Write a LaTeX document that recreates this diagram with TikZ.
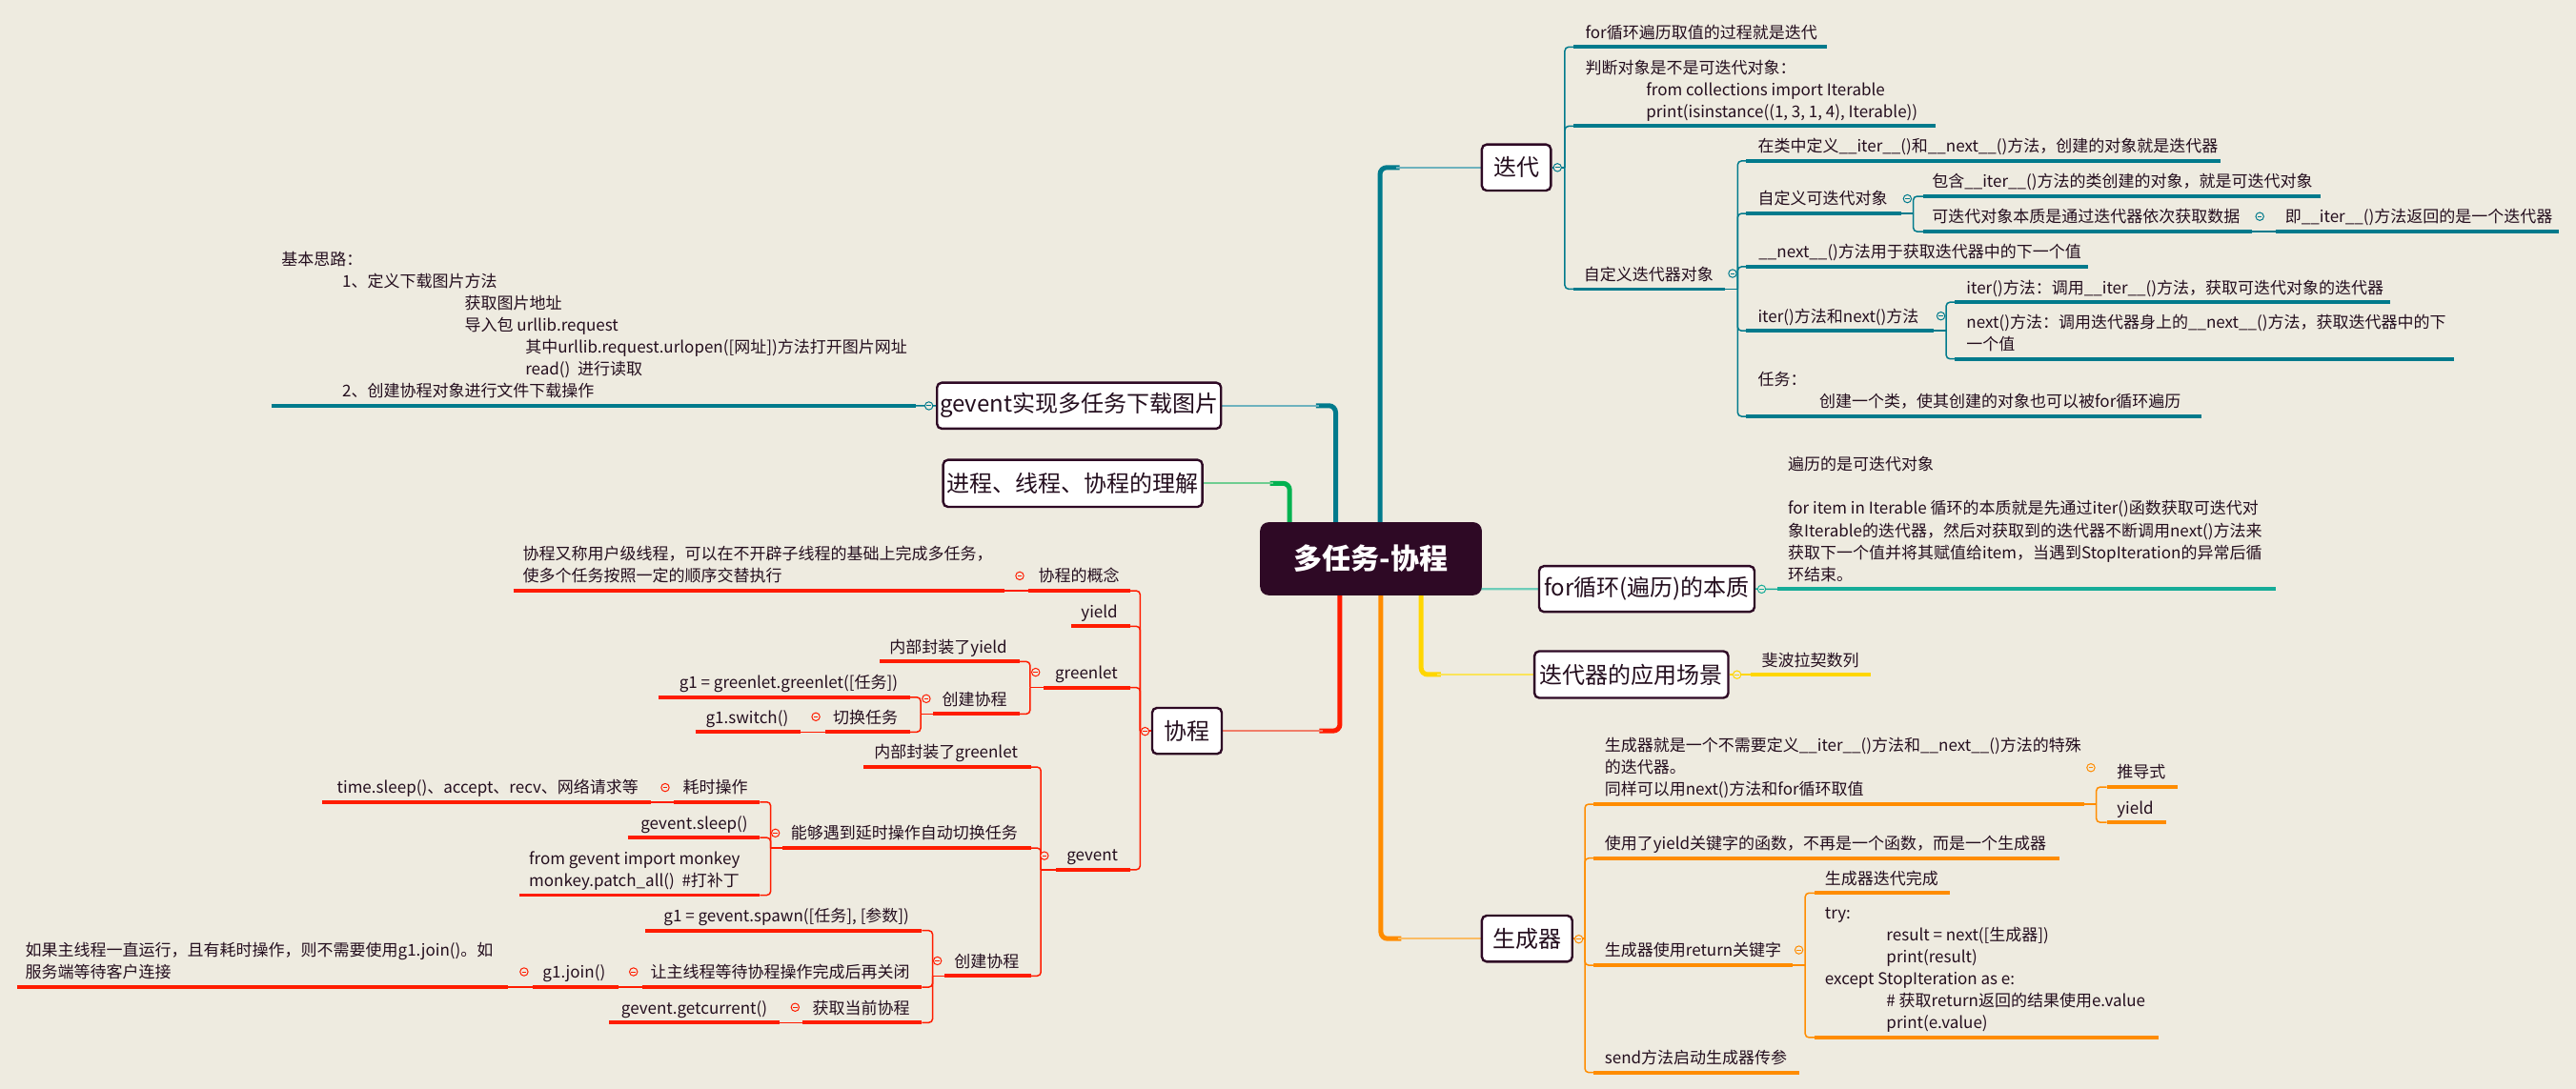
\documentclass[tikz,border=0pt]{standalone}
\usepackage{fontspec}
\setmainfont{Noto Sans CJK SC}
\usetikzlibrary{calc}
\definecolor{bg}{RGB}{238,235,224}
\definecolor{ink}{RGB}{36,14,30}
\definecolor{rootc}{RGB}{46,9,37}
\definecolor{tealc}{RGB}{0,122,140}
\definecolor{teall}{RGB}{110,178,190}
\definecolor{forc}{RGB}{22,172,152}
\definecolor{forl}{RGB}{110,205,185}
\definecolor{yelc}{RGB}{255,214,0}
\definecolor{yell}{RGB}{250,228,90}
\definecolor{orac}{RGB}{255,140,0}
\definecolor{oral}{RGB}{250,188,100}
\definecolor{redc}{RGB}{255,28,0}
\definecolor{redl}{RGB}{240,125,105}
\definecolor{grnc}{RGB}{0,178,80}
\definecolor{grnl}{RGB}{110,205,145}
\pgfdeclarelayer{bglayer}\pgfdeclarelayer{linelayer}
\pgfsetlayers{bglayer,linelayer,main}
\newcommand\mlines[1]{\begin{tabular}[b]{@{}l@{}}#1\end{tabular}}
\tikzset{
 txt/.style={font=\fontsize{17}{23.1}\selectfont, text=ink, inner sep=0pt, outer sep=0pt},
 tR/.style={txt, anchor=base west},
 tL/.style={txt, anchor=base east},
 topic/.style={draw=rootc, line width=2.4pt, fill=white, rounded corners=5pt, font=\fontsize{24}{28}\selectfont, text=ink, inner sep=0pt},
 ul/.style={line width=3.8pt},
 br/.style={line width=1.5pt, rounded corners=4pt},
 trunk/.style={line width=5pt, rounded corners=7pt},
 twig/.style={line width=2.2pt},
 collapse/.pic={\draw[line width=1pt, fill=bg] (0,0) circle[radius=4.2pt]; \draw[line width=1pt] (-2.3pt,0) -- (2.3pt,0);},
}
\begin{document}
\begin{tikzpicture}[x=1.7239pt,y=-1.7239pt]
\begin{pgfonlayer}{bglayer}
\fill[bg] (0,0) rectangle (1568,663);
\end{pgfonlayer}
\useasboundingbox (0,0) rectangle (1568,663);

% root and main topics
\node[fill=rootc, rounded corners=9pt, minimum width=232.7pt, minimum height=76.7pt, inner sep=0pt, text=white, font=\fontsize{30}{34}\selectfont\bfseries] (root) at (834.5,340.2) {多任务-协程};
\node[topic, minimum width=72.4pt, minimum height=48.3pt] (it) at (923,102) {迭代};
\node[topic, minimum width=298pt, minimum height=48.3pt] (gev) at (656.8,247) {gevent实现多任务下载图片};
\node[topic, minimum width=272pt, minimum height=49.3pt] (proc) at (653,294.3) {进程、线程、协程的理解};
\node[topic, minimum width=73pt, minimum height=48.3pt] (co) at (722.5,445) {协程};
\node[topic, minimum width=226pt, minimum height=48pt] (forb) at (1002.4,358.6) {for循环(遍历)的本质};
\node[topic, minimum width=203.4pt, minimum height=49pt] (app) at (993,410.7) {迭代器的应用场景};
\node[topic, minimum width=94.8pt, minimum height=48.3pt] (gen) at (929.5,571.5) {生成器};

\begin{pgfonlayer}{linelayer}
\draw[trunk, tealc] (840,340) |- (852,102);
\draw[twig, teall] (850,102) -- (it.west);
\draw[trunk, tealc] (813,340) |- (801,247);
\draw[twig, teall] (803,247) -- (gev.east);
\draw[trunk, grnc] (785,340) |- (773,294.3);
\draw[twig, grnl] (775,294.3) -- (proc.east);
\draw[trunk, redc] (815.6,340) |- (803,445);
\draw[twig, redl] (805,445) -- (co.east);
\draw[trunk, orac] (840.5,340) |- (853,571.5);
\draw[twig, oral] (851,571.5) -- (gen.west);
\draw[trunk, yelc] (865,340) |- (877,410.7);
\draw[twig, yell] (875,410.7) -- (app.west);
\draw[twig, forl, rounded corners=5pt] (897,345) |- (forb.west);
\end{pgfonlayer}

% ===== 迭代 =====
\draw[br,tealc] (it.east) -- (952.5,102);
\foreach \yy in {28.6,76.8,176} \draw[br,tealc] (952.5,102) |- (958,\yy);
\draw[ul,tealc] (958,28.6) -- (1112,28.6);
\node[tR] (it1) at (965,23.3) {for循环遍历取值的过程就是迭代};
\draw[ul,tealc] (958,76.8) -- (1178,76.8);
\node[tR] (it2) at (965,71.5) {\mlines{判断对象是不是可迭代对象：\\\hspace*{63.8pt}from collections import Iterable\\\hspace*{63.8pt}print(isinstance((1, 3, 1, 4), Iterable))}};
\draw[ul,tealc] (958,176) -- (1050,176);
\node[tR] (it3) at (964,170.7) {自定义迭代器对象};
\draw[br,tealc] (1050,176) -- (1057.7,176);
\foreach \yy in {98,130,162.4,201.4,253.5} \draw[br,tealc] (1057.7,176) |- (1063,\yy);
\draw[ul,tealc] (1063,98) -- (1351.6,98);
\node[tR] (it3a) at (1070,92.7) {在类中定义\_\_iter\_\_()和\_\_next\_\_()方法，创建的对象就是迭代器};
\draw[ul,tealc] (1063,130) -- (1157,130);
\node[tR] (it3b) at (1070,124.7) {自定义可迭代对象};
\draw[br,tealc] (1157,130) -- (1164.6,130);
\foreach \yy in {119.5,141} \draw[br,tealc] (1164.6,130) |- (1170.5,\yy);
\draw[ul,tealc] (1170.5,119.5) -- (1412.4,119.5);
\node[tR] (it3b1) at (1176,114.2) {包含\_\_iter\_\_()方法的类创建的对象，就是可迭代对象};
\draw[ul,tealc] (1170.5,141) -- (1371,141);
\node[tR] (it3b2) at (1176,135.7) {可迭代对象本质是通过迭代器依次获取数据};
\draw[br,tealc] (1371,141) -- (1385,141);
\draw[ul,tealc] (1385,141) -- (1557.6,141);
\node[tR] (it3b2a) at (1391,135.7) {即\_\_iter\_\_()方法返回的是一个迭代器};
\draw[ul,tealc] (1063,162.4) -- (1271,162.4);
\node[tR] (it3c) at (1070.5,157.1) {\_\_next\_\_()方法用于获取迭代器中的下一个值};
\draw[ul,tealc] (1063,201.4) -- (1177,201.4);
\node[tR] (it3d) at (1070,196.1) {iter()方法和next()方法};
\draw[br,tealc] (1177,201.4) -- (1184.6,201.4);
\foreach \yy in {184,218.5} \draw[br,tealc] (1184.6,201.4) |- (1190,\yy);
\draw[ul,tealc] (1190,184) -- (1455,184);
\node[tR] (it3d1) at (1197,178.7) {iter()方法：调用\_\_iter\_\_()方法，获取可迭代对象的迭代器};
\draw[ul,tealc] (1190,218.5) -- (1494,218.5);
\node[tR] (it3d2) at (1197,213.2) {\mlines{next()方法：调用迭代器身上的\_\_next\_\_()方法，获取迭代器中的下\\一个值}};
\draw[ul,tealc] (1063,253.5) -- (1340,253.5);
\node[tR] (it3e) at (1070,248.2) {\mlines{任务：\\\hspace*{64.6pt}创建一个类，使其创建的对象也可以被for循环遍历}};

% ===== for循环 =====
\draw[br,forc] (forb.east) -- (1082,358.7);
\draw[ul,forc] (1082,358.7) -- (1385.3,358.7);
\node[tR] (forb1) at (1088.3,353.4) {\mlines{遍历的是可迭代对象\\ \\for item in Iterable 循环的本质就是先通过iter()函数获取可迭代对\\象Iterable的迭代器，然后对获取到的迭代器不断调用next()方法来\\获取下一个值并将其赋值给item，当遇到StopIteration的异常后循\\环结束。}};

% ===== 应用场景 =====
\draw[br,yelc] (app.east) -- (1065.6,410.7);
\draw[ul,yelc] (1065.6,410.8) -- (1138.8,410.8);
\node[tR] (app1) at (1072.3,405.5) {斐波拉契数列};

% ===== 生成器 =====
\draw[br,orac] (gen.east) -- (964.7,571.5);
\foreach \yy in {489.6,522.5,587.7,653} \draw[br,orac] (964.7,571.5) |- (970,\yy);
\draw[ul,orac] (970,489.6) -- (1268.5,489.6);
\node[tR] (g1) at (976.8,484.3) {\mlines{生成器就是一个不需要定义\_\_iter\_\_()方法和\_\_next\_\_()方法的特殊\\的迭代器。\\同样可以用next()方法和for循环取值}};
\draw[br,orac] (1268.5,489.6) -- (1276,489.6);
\foreach \yy in {479.2,500.7} \draw[br,orac] (1276,489.6) |- (1282.4,\yy);
\draw[ul,orac] (1282.4,479.2) -- (1325.4,479.2);
\node[tR] (g1a) at (1288.6,473.9) {推导式};
\draw[ul,orac] (1282.4,500.7) -- (1318.8,500.7);
\node[tR] (g1b) at (1288.6,495.4) {yield};
\draw[ul,orac] (970,522.5) -- (1253.6,522.5);
\node[tR] (g2) at (976.8,517.2) {使用了yield关键字的函数，不再是一个函数，而是一个生成器};
\draw[ul,orac] (970,587.7) -- (1090.9,587.7);
\node[tR] (g3) at (976.8,582.4) {生成器使用return关键字};
\draw[br,orac] (1090.9,587.7) -- (1098.8,587.7);
\foreach \yy in {543.7,631.7} \draw[br,orac] (1098.8,587.7) |- (1104.5,\yy);
\draw[ul,orac] (1104.5,543.7) -- (1186.9,543.7);
\node[tR] (g3a) at (1110.8,538.4) {生成器迭代完成};
\draw[ul,orac] (1104.5,631.7) -- (1314,631.7);
\node[tR] (g3b) at (1110.8,626.4) {\mlines{try:\\\hspace*{64.6pt}result = next([生成器])\\\hspace*{64.6pt}print(result)\\except StopIteration as e:\\\hspace*{64.6pt}\# 获取return返回的结果使用e.value\\\hspace*{64.6pt}print(e.value)}};
\draw[ul,orac] (970,653) -- (1095,653);
\node[tR] (g4) at (976.8,647.7) {send方法启动生成器传参};

% ===== gevent 下载图片 =====
\draw[br,tealc] (gev.west) -- (557.5,247.1);
\draw[ul,tealc] (165.2,247.1) -- (557.5,247.1);
\node[tR] (gev1) at (171.4,241.8) {\mlines{基本思路：\\\hspace*{63.6pt}1、定义下载图片方法\\\hspace*{192.2pt}获取图片地址\\\hspace*{192.2pt}导入包 urllib.request\\\hspace*{255.8pt}其中urllib.request.urlopen([网址])方法打开图片网址\\\hspace*{255.8pt}read()\ \ 进行读取\\\hspace*{63.6pt}2、创建协程对象进行文件下载操作}};

% ===== 协程 =====
\draw[br,redc] (co.west) -- (694,445);
\foreach \yy in {359.7,381.3,418.6,529.5} \draw[br,redc] (694,445) |- (688,\yy);
\draw[ul,redc] (625.7,359.7) -- (688,359.7);
\node[tL] (k1) at (681.4,354.4) {协程的概念};
\draw[br,redc] (611.4,359.7) -- (625.7,359.7);
\draw[ul,redc] (312.4,359.7) -- (611.4,359.7);
\node[tR] (k1a) at (318.3,354.4) {\mlines{协程又称用户级线程，可以在不开辟子线程的基础上完成多任务，\\使多个任务按照一定的顺序交替执行}};
\draw[ul,redc] (652,381.3) -- (688,381.3);
\node[tL] (k2) at (680.3,376) {yield};
\draw[ul,redc] (635.4,418.6) -- (688,418.6);
\node[tL] (k3) at (680.3,413.3) {greenlet};
\draw[br,redc] (635.4,418.6) -- (627,418.6);
\foreach \yy in {402.8,434.7} \draw[br,redc] (627,418.6) |- (620.8,\yy);
\draw[ul,redc] (535.5,402.8) -- (620.8,402.8);
\node[tL] (k3a) at (613,397.5) {内部封装了yield};
\draw[ul,redc] (568,434.7) -- (620.8,434.7);
\node[tL] (k3b) at (613,429.4) {创建协程};
\draw[br,redc] (568,434.7) -- (560.4,434.7);
\foreach \yy in {424.5,445.7} \draw[br,redc] (560.4,434.7) |- (554,\yy);
\draw[ul,redc] (400.6,424.5) -- (554,424.5);
\node[tL] (k3b1) at (546.5,419.2) {g1 = greenlet.greenlet([任务])};
\draw[ul,redc] (502.2,445.7) -- (554,445.7);
\node[tL] (k3b2) at (546.5,440.4) {切换任务};
\draw[br,redc] (487.5,445.7) -- (502.2,445.7);
\draw[ul,redc] (423.3,445.7) -- (487.5,445.7);
\node[tL] (k3b2a) at (479.9,440.4) {g1.switch()};
\draw[ul,redc] (643,529.5) -- (688,529.5);
\node[tL] (k4) at (680.5,524.2) {gevent};
\draw[br,redc] (643,529.5) -- (633.6,529.5);
\foreach \yy in {467,516.3,594.2} \draw[br,redc] (633.6,529.5) |- (627.7,\yy);
\draw[ul,redc] (525.6,467) -- (627.7,467);
\node[tL] (k4a) at (619.5,461.7) {内部封装了greenlet};
\draw[ul,redc] (476.5,516.3) -- (627.7,516.3);
\node[tL] (k4b) at (619.5,511) {能够遇到延时操作自动切换任务};
\draw[br,redc] (476.5,516.3) -- (469.1,516.3);
\foreach \yy in {488.3,510,545} \draw[br,redc] (469.1,516.3) |- (462.6,\yy);
\draw[ul,redc] (409.9,488.3) -- (462.6,488.3);
\node[tL] (k4b1) at (455.2,483) {耗时操作};
\draw[br,redc] (396,488.3) -- (409.9,488.3);
\draw[ul,redc] (196.2,488.3) -- (396,488.3);
\node[tL] (k4b1a) at (388.6,483) {time.sleep()、accept、recv、网络请求等};
\draw[ul,redc] (382.1,510) -- (462.6,510);
\node[tL] (k4b2) at (455.2,504.7) {gevent.sleep()};
\draw[ul,redc] (316,545) -- (462.6,545);
\node[tR] (k4b3) at (322,539.7) {\mlines{from gevent import monkey\\monkey.patch\_all()\ \ \#打补丁}};
\draw[ul,redc] (575,594.2) -- (627.7,594.2);
\node[tL] (k4c) at (620.3,588.9) {创建协程};
\draw[br,redc] (575,594.2) -- (567.7,594.2);
\foreach \yy in {566.6,601,622.6} \draw[br,redc] (567.7,594.2) |- (561.1,\yy);
\draw[ul,redc] (393,566.6) -- (561.1,566.6);
\node[tL] (k4c1) at (553.4,561.3) {g1 = gevent.spawn([任务], [参数])};
\draw[ul,redc] (390.7,601) -- (561.1,601);
\node[tL] (k4c2) at (553.7,595.7) {让主线程等待协程操作完成后再关闭};
\draw[br,redc] (376.2,601) -- (390.7,601);
\draw[ul,redc] (324.1,601) -- (376.2,601);
\node[tL] (k4c2a) at (368.5,595.7) {g1.join()};
\draw[br,redc] (308.9,601) -- (324.1,601);
\draw[ul,redc] (10.4,601) -- (308.9,601);
\node[tR] (k4c2b) at (15.5,595.7) {\mlines{如果主线程一直运行，且有耗时操作，则不需要使用g1.join()。如\\服务端等待客户连接}};
\draw[ul,redc] (488.3,622.6) -- (561.1,622.6);
\node[tL] (k4c3) at (553.7,617.3) {获取当前协程};
\draw[br,redc] (474.5,622.6) -- (488.3,622.6);
\draw[ul,redc] (370.9,622.6) -- (474.5,622.6);
\node[tL] (k4c3a) at (467,617.3) {gevent.getcurrent()};

% ===== collapse circles =====
\pic[tealc] at (948,102) {collapse};
\pic[tealc] at (1054.6,166.5) {collapse};
\pic[tealc] at (1161,121) {collapse};
\pic[tealc] at (1375.5,131.8) {collapse};
\pic[tealc] at (1181.4,192.4) {collapse};
\pic[forc] at (1072.3,358.7) {collapse};
\pic[yelc] at (1057.3,410.8) {collapse};
\pic[orac] at (961,571.8) {collapse};
\pic[orac] at (1272.7,467.4) {collapse};
\pic[orac] at (1095,578.4) {collapse};
\pic[tealc] at (565.4,247.1) {collapse};
\pic[redc] at (697,445.3) {collapse};
\pic[redc] at (620.7,350.6) {collapse};
\pic[redc] at (630.4,409.3) {collapse};
\pic[redc] at (563.8,425.4) {collapse};
\pic[redc] at (496.6,436.4) {collapse};
\pic[redc] at (635.7,521) {collapse};
\pic[redc] at (472,507.2) {collapse};
\pic[redc] at (404.9,479.5) {collapse};
\pic[redc] at (570.6,585) {collapse};
\pic[redc] at (385.6,591.7) {collapse};
\pic[redc] at (319,591.7) {collapse};
\pic[redc] at (484,613.3) {collapse};
\end{tikzpicture}
\end{document}
